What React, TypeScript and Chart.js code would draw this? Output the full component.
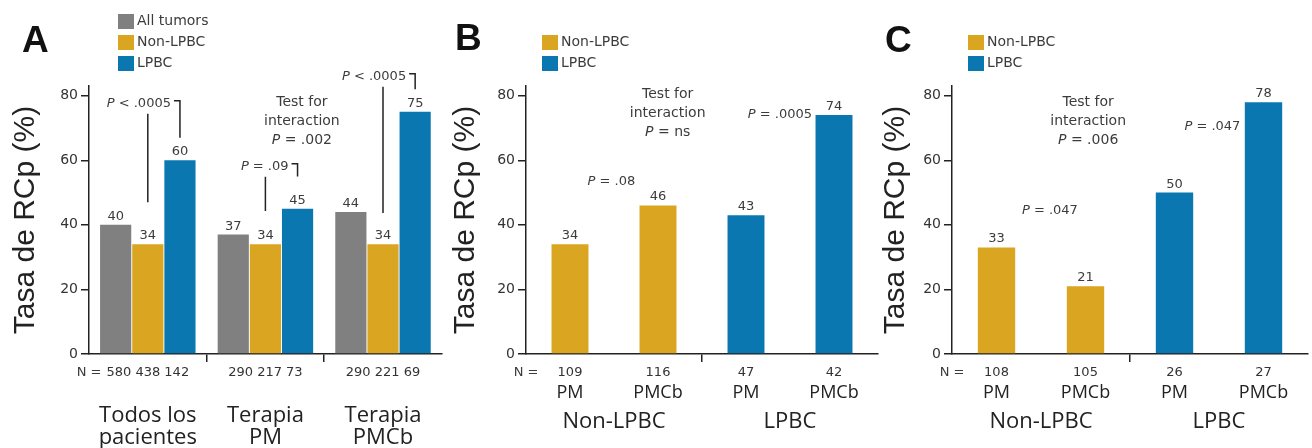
import React, { useEffect, useRef } from "react";
import { Chart, registerables } from "chart.js";

Chart.register(...registerables);

// ---------- colours & fonts ----------
const GRAY = "#808081";
const YELLOW = "#DAA622";
const BLUE = "#0B77B0";
const AXIS = "#222222";
const TEXT_DARK = "#222222";
const TEXT_MID = "#3c3c3c";
const SMALL = "'DejaVu Sans', sans-serif";
const BIG = "'Open Sans', sans-serif";
const TITLE = "'Liberation Sans', Arial, sans-serif";

// ---------- shared text ----------
const Y_TITLE = "Tasa de RCp (%)";
const N_PREFIX = "N =";
const INTERACTION_LINES = ["Test for", "interaction"];
const SERIES_ALL = "All tumors";
const SERIES_NON = "Non-LPBC";
const SERIES_LPBC = "LPBC";

// ---------- Panel A data ----------
const A_CATEGORIES = ["Todos los pacientes", "Terapia PM", "Terapia PMCb"];
const A_CATEGORY_LINES = [["Todos los", "pacientes"], ["Terapia", "PM"], ["Terapia", "PMCb"]];
const A_N = ["580 438 142", "290 217 73", "290 221 69"];
const A_ALL_TUMORS = [40, 37, 44];
const A_NON_LPBC = [34, 34, 34];
const A_LPBC = [60, 45, 75];
const A_P_LABELS = ["P < .0005", "P = .09", "P < .0005"];
const A_INTERACTION_P = "P = .002";

// ---------- Panel B data ----------
const B_CATEGORIES = ["Non-LPBC PM", "Non-LPBC PMCb", "LPBC PM", "LPBC PMCb"];
const B_N = ["109", "116", "47", "42"];
const B_ARMS = ["PM", "PMCb", "PM", "PMCb"];
const B_SUBTYPES = ["Non-LPBC", "LPBC"];
const B_NON_LPBC = [34, 46, null, null];
const B_LPBC = [null, null, 43, 74];
const B_P_LABELS = ["P = .08", "P = .0005"];
const B_INTERACTION_P = "P = ns";

// ---------- Panel C data ----------
const C_CATEGORIES = ["Non-LPBC PM", "Non-LPBC PMCb", "LPBC PM", "LPBC PMCb"];
const C_N = ["108", "105", "26", "27"];
const C_ARMS = ["PM", "PMCb", "PM", "PMCb"];
const C_SUBTYPES = ["Non-LPBC", "LPBC"];
const C_NON_LPBC = [33, 21, null, null];
const C_LPBC = [null, null, 50, 78];
const C_P_LABELS = ["P = .047", "P = .047"];
const C_INTERACTION_P = "P = .006";

// ---------- y axis ----------
const Y_MIN = 0;
const Y_MAX = 83;
const Y_STEP = 20;

type Bracket = { text: string; group: number; textY: number; leftBottom: number; rightBottom: number };
type Note = { text: string; x: number; y: number; align: CanvasTextAlign };
type XAxisCfg = {
  labels?: any[];
  tickText?: string[];
  font: any;
  color: string;
  padding: number;
  height: number;
  ticks: boolean;
};
type PanelCfg = {
  key: string;
  letter: string;
  letterX: number;
  letterY: number;
  left: number;
  width: number;
  yWidth: number;
  padRight: number;
  labels: string[];
  datasets: any[];
  xAxes: XAxisCfg[];
  separators: number[];
  legendX: number;
  legendY: number;
  brackets: Bracket[];
  notes: Note[];
  interaction: { lines: string[]; x: number; y: number };
};

function drawPText(ctx: CanvasRenderingContext2D, text: string, x: number, y: number, align: CanvasTextAlign, size: number) {
  ctx.textBaseline = "middle";
  const normal = `${size}px ${SMALL}`;
  const italic = `italic ${size}px ${SMALL}`;
  if (text.startsWith("P ")) {
    const head = "P";
    const rest = text.slice(1);
    ctx.font = italic;
    const wh = ctx.measureText(head).width;
    ctx.font = normal;
    const wr = ctx.measureText(rest).width;
    const total = wh + wr;
    const x0 = align === "center" ? x - total / 2 : align === "right" ? x - total : x;
    ctx.textAlign = "left";
    ctx.font = italic;
    ctx.fillText(head, x0, y);
    ctx.font = normal;
    ctx.fillText(rest, x0 + wh, y);
  } else {
    ctx.textAlign = align;
    ctx.font = normal;
    ctx.fillText(text, x, y);
  }
}

function makeDecor(cfg: PanelCfg) {
  return {
    id: "decor_" + cfg.key,
    afterDraw(chart: any) {
      const ctx: CanvasRenderingContext2D = chart.ctx;
      const xs = chart.scales.x;
      const ys = chart.scales.y;
      ctx.save();

      // value labels
      ctx.font = `13px ${SMALL}`;
      ctx.fillStyle = TEXT_MID;
      ctx.textAlign = "center";
      ctx.textBaseline = "alphabetic";
      chart.data.datasets.forEach((ds: any, di: number) => {
        const meta = chart.getDatasetMeta(di);
        meta.data.forEach((el: any, i: number) => {
          const v = ds.data[i];
          if (v == null) return;
          ctx.fillText(String(v), el.x, el.y - 5);
        });
      });

      // legend
      chart.data.datasets.forEach((ds: any, di: number) => {
        const cy = cfg.legendY + di * 21;
        ctx.fillStyle = ds.backgroundColor;
        ctx.fillRect(cfg.legendX, cy - 7, 16, 15);
        ctx.fillStyle = TEXT_MID;
        ctx.font = `14px ${SMALL}`;
        ctx.textAlign = "left";
        ctx.textBaseline = "middle";
        ctx.fillText(ds.label, cfg.legendX + 19, cy);
      });

      // panel letter
      ctx.fillStyle = "#111";
      ctx.font = `bold 37px ${TITLE}`;
      ctx.textAlign = "left";
      ctx.textBaseline = "alphabetic";
      ctx.fillText(cfg.letter, cfg.letterX, cfg.letterY);

      // N =
      ctx.fillStyle = TEXT_MID;
      ctx.font = `13px ${SMALL}`;
      ctx.textAlign = "center";
      ctx.textBaseline = "middle";
      ctx.fillText(N_PREFIX, xs.left, xs.top + 8 + 3 + 7.8);

      // brackets
      ctx.strokeStyle = AXIS;
      ctx.lineWidth = 1.5;
      cfg.brackets.forEach((b) => {
        const lx = chart.getDatasetMeta(1).data[b.group].x;
        const rx = chart.getDatasetMeta(2).data[b.group].x;
        const ty = ys.getPixelForValue(b.textY);
        ctx.fillStyle = TEXT_MID;
        drawPText(ctx, b.text, rx - 9, ty, "right", 13);
        ctx.beginPath();
        ctx.moveTo(rx - 6, ty - 3);
        ctx.lineTo(rx, ty - 3);
        ctx.lineTo(rx, ys.getPixelForValue(b.rightBottom));
        ctx.moveTo(lx, ty + 10);
        ctx.lineTo(lx, ys.getPixelForValue(b.leftBottom));
        ctx.stroke();
      });

      // notes
      cfg.notes.forEach((n) => {
        ctx.fillStyle = TEXT_MID;
        drawPText(ctx, n.text, xs.getPixelForValue(n.x), ys.getPixelForValue(n.y), n.align, 13);
      });

      // interaction block
      const ix = xs.getPixelForValue(cfg.interaction.x);
      const iy = ys.getPixelForValue(cfg.interaction.y);
      cfg.interaction.lines.forEach((line, k) => {
        ctx.fillStyle = TEXT_MID;
        drawPText(ctx, line, ix, iy + k * 19, "center", 14);
      });

      ctx.restore();
    },
  };
}

function buildConfig(cfg: PanelCfg): any {
  const scales: any = {
    y: {
      type: "linear",
      position: "left",
      min: Y_MIN,
      max: Y_MAX,
      bounds: "data",
      ticks: {
        stepSize: Y_STEP,
        includeBounds: false,
        font: { family: SMALL, size: 14 },
        color: "#333",
        padding: 3,
      },
      afterBuildTicks: (s: any) => {
        s.ticks = s.ticks.filter((t: any) => t.value % Y_STEP === 0);
      },
      grid: { display: true, drawOnChartArea: false, drawTicks: true, tickLength: 8, color: AXIS, lineWidth: 1.5 },
      border: { display: true, color: AXIS, width: 1.5 },
      title: {
        display: true,
        text: Y_TITLE,
        font: { family: TITLE, size: 30, lineHeight: 1 },
        color: TEXT_DARK,
        padding: { top: 11, bottom: 0 },
      },
      afterFit: (s: any) => {
        s.width = cfg.yWidth;
      },
    },
  };
  cfg.xAxes.forEach((ax, k) => {
    const id = k === 0 ? "x" : "x" + (k + 1);
    const sc: any = {
      type: "category",
      position: "bottom",
      weight: k,
      offset: true,
      ticks: {
        font: ax.font,
        color: ax.color,
        padding: ax.padding,
        maxRotation: 0,
        minRotation: 0,
        autoSkip: false,
      },
      afterFit: (s: any) => {
        s.height = ax.height;
      },
    };
    if (ax.labels) sc.labels = ax.labels;
    if (ax.tickText) {
      const tt = ax.tickText;
      sc.ticks.callback = (_v: any, i: number) => tt[i];
    }
    if (k === 0) {
      sc.grid = {
        display: true,
        offset: true,
        drawOnChartArea: false,
        drawTicks: true,
        tickLength: 8,
        lineWidth: 1.5,
        color: (c: any) => (cfg.separators.includes(c.index) ? AXIS : "rgba(0,0,0,0)"),
      };
      sc.border = { display: true, color: AXIS, width: 1.5 };
    } else {
      sc.grid = { display: false, drawTicks: false, drawOnChartArea: false };
      sc.border = { display: false };
    }
    scales[id] = sc;
  });

  return {
    type: "bar",
    data: { labels: cfg.labels, datasets: cfg.datasets },
    options: {
      responsive: false,
      maintainAspectRatio: false,
      devicePixelRatio: 1,
      animation: false,
      layout: { padding: { top: 86, left: 0, right: cfg.padRight, bottom: 0 } },
      plugins: { legend: { display: false }, tooltip: { enabled: false }, title: { display: false } },
      scales,
    },
    plugins: [makeDecor(cfg)],
  };
}

const smallTickFont = { family: SMALL, size: 13, lineHeight: 1.2 };
const armFont = { family: BIG, size: 18, lineHeight: 1 };
const groupFont = { family: BIG, size: 22, lineHeight: 1 };

const PANEL_A: PanelCfg = {
  key: "A",
  letter: "A",
  letterX: 22,
  letterY: 52,
  left: 0,
  width: 445,
  yWidth: 89,
  padRight: 2,
  labels: A_CATEGORIES,
  datasets: [
    { label: SERIES_ALL, data: A_ALL_TUMORS, backgroundColor: GRAY, categoryPercentage: 0.82, barPercentage: 0.97 },
    { label: SERIES_NON, data: A_NON_LPBC, backgroundColor: YELLOW, categoryPercentage: 0.82, barPercentage: 0.97 },
    { label: SERIES_LPBC, data: A_LPBC, backgroundColor: BLUE, categoryPercentage: 0.82, barPercentage: 0.97 },
  ],
  xAxes: [
    { tickText: A_N, font: smallTickFont, color: "#333", padding: 3, height: 28, ticks: true },
    { labels: A_CATEGORY_LINES, font: groupFont, color: TEXT_DARK, padding: 23, height: 66, ticks: false },
  ],
  separators: [1, 2],
  legendX: 118,
  legendY: 21,
  brackets: [
    { text: A_P_LABELS[0], group: 0, textY: 77.5, leftBottom: 47, rightBottom: 67 },
    { text: A_P_LABELS[1], group: 1, textY: 58, leftBottom: 44.3, rightBottom: 55 },
    { text: A_P_LABELS[2], group: 2, textY: 85.9, leftBottom: 43.7, rightBottom: 82 },
  ],
  notes: [],
  interaction: { lines: [...INTERACTION_LINES, A_INTERACTION_P], x: 1.31, y: 77.8 },
};

const PANEL_B: PanelCfg = {
  key: "B",
  letter: "B",
  letterX: 15,
  letterY: 50,
  left: 440,
  width: 440,
  yWidth: 86,
  padRight: 2,
  labels: B_CATEGORIES,
  datasets: [
    { label: SERIES_NON, data: B_NON_LPBC, backgroundColor: YELLOW, skipNull: true, categoryPercentage: 1, barPercentage: 0.42 },
    { label: SERIES_LPBC, data: B_LPBC, backgroundColor: BLUE, skipNull: true, categoryPercentage: 1, barPercentage: 0.42 },
  ],
  xAxes: [
    { tickText: B_N, font: smallTickFont, color: "#333", padding: 3, height: 27, ticks: true },
    { labels: B_ARMS, font: armFont, color: TEXT_DARK, padding: 3, height: 21, ticks: false },
    { labels: B_SUBTYPES, font: groupFont, color: TEXT_DARK, padding: 9, height: 46, ticks: false },
  ],
  separators: [2],
  legendX: 102,
  legendY: 42,
  brackets: [],
  notes: [
    { text: B_P_LABELS[0], x: 0.47, y: 53.3, align: "center" },
    { text: B_P_LABELS[1], x: 2.75, y: 74.1, align: "right" },
  ],
  interaction: { lines: [...INTERACTION_LINES, B_INTERACTION_P], x: 1.11, y: 80.3 },
};

const PANEL_C: PanelCfg = {
  key: "C",
  letter: "C",
  letterX: 15,
  letterY: 52,
  left: 870,
  width: 442,
  yWidth: 82,
  padRight: 4,
  labels: C_CATEGORIES,
  datasets: [
    { label: SERIES_NON, data: C_NON_LPBC, backgroundColor: YELLOW, skipNull: true, categoryPercentage: 1, barPercentage: 0.42 },
    { label: SERIES_LPBC, data: C_LPBC, backgroundColor: BLUE, skipNull: true, categoryPercentage: 1, barPercentage: 0.42 },
  ],
  xAxes: [
    { tickText: C_N, font: smallTickFont, color: "#333", padding: 3, height: 27, ticks: true },
    { labels: C_ARMS, font: armFont, color: TEXT_DARK, padding: 3, height: 21, ticks: false },
    { labels: C_SUBTYPES, font: groupFont, color: TEXT_DARK, padding: 9, height: 46, ticks: false },
  ],
  separators: [2],
  legendX: 98,
  legendY: 42,
  brackets: [],
  notes: [
    { text: C_P_LABELS[0], x: 0.6, y: 44.3, align: "center" },
    { text: C_P_LABELS[1], x: 2.74, y: 70.4, align: "right" },
  ],
  interaction: { lines: [...INTERACTION_LINES, C_INTERACTION_P], x: 1.03, y: 77.8 },
};

function Panel({ cfg }: { cfg: PanelCfg }) {
  const ref = useRef<HTMLCanvasElement>(null);
  useEffect(() => {
    if (!ref.current) return;
    const chart = new Chart(ref.current, buildConfig(cfg));
    return () => chart.destroy();
  }, [cfg]);
  return (
    <canvas
      ref={ref}
      width={cfg.width}
      height={448}
      style={{ position: "absolute", left: cfg.left, top: 0, width: cfg.width, height: 448 }}
    />
  );
}

export default function App() {
  return (
    <div style={{ position: "fixed", left: 0, top: 0, width: 1312, height: 448, background: "#fff", overflow: "hidden" }}>
      <Panel cfg={PANEL_A} />
      <Panel cfg={PANEL_B} />
      <Panel cfg={PANEL_C} />
    </div>
  );
}
